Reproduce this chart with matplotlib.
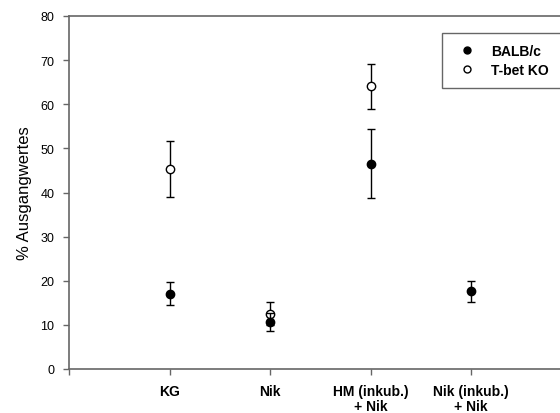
import matplotlib
matplotlib.use("Agg")
import matplotlib.pyplot as plt
from matplotlib.lines import Line2D

plt.rcParams['font.family'] = ['Liberation Sans', 'DejaVu Sans']

categories = ["KG", "Nik", "HM (inkub.)\n+ Nik", "Nik (inkub.)\n+ Nik"]
balb_x = [1, 2, 3, 4]
balb_mean = [17.1, 10.7, 46.5, 17.6]
balb_err = [2.6, 2.1, 7.8, 2.4]
ko_x = [1, 2, 3]
ko_mean = [45.3, 12.5, 64.1]
ko_err = [6.4, 2.6, 5.1]
series_names = ["BALB/c", "T-bet KO"]

fig = plt.figure(figsize=(5.6, 4.14), dpi=100)
ax = fig.add_axes([69 / 560, 1 - 370 / 414, 502.5 / 560, 353 / 414])

spine_col = "#666666"
ms = 6.0
ax.errorbar(ko_x, ko_mean, yerr=ko_err, fmt='o', color='black', mfc='white',
            mec='black', ms=ms, mew=1.0, elinewidth=1.0, capsize=3.0,
            capthick=1.0, zorder=3)
ax.errorbar(balb_x, balb_mean, yerr=balb_err, fmt='o', color='black', mfc='black',
            mec='black', ms=ms, mew=1.0, elinewidth=1.0, capsize=3.0,
            capthick=1.0, zorder=4)

ax.set_xlim(0, 5)
ax.set_ylim(0, 80)
ax.set_yticks(range(0, 81, 10))
ax.set_xticks([0, 1, 2, 3, 4])
ax.set_xticklabels([""] + categories, fontweight='bold', fontsize=10)
ax.tick_params(axis='y', labelsize=9, direction='out', length=4.5, width=1.0,
               color=spine_col, pad=6)
ax.tick_params(axis='x', direction='out', length=4.5, width=1.0,
               color=spine_col, pad=6)
for lbl in ax.get_xticklabels():
    lbl.set_linespacing(1.1)

for side in ['left', 'bottom', 'top']:
    ax.spines[side].set_color(spine_col)
    ax.spines[side].set_linewidth(1.2)
ax.spines['right'].set_visible(False)

ax.set_ylabel("% Ausgangwertes", fontsize=12)
ax.yaxis.set_label_coords((32 - 69) / 502.5, 0.5)

handles = [
    Line2D([], [], marker='o', ls='none', mfc='black', mec='black', ms=5.0),
    Line2D([], [], marker='o', ls='none', mfc='white', mec='black', ms=5.0),
]
leg = fig.legend(handles, series_names, loc='upper left',
                 bbox_to_anchor=(441.7 / 560, 0, 0.3, 1 - 34.3 / 414),
                 mode='expand', fancybox=False, framealpha=1,
                 edgecolor=spine_col, prop={'weight': 'bold', 'size': 10},
                 handlelength=2.2, handletextpad=0.63, borderpad=0.75,
                 labelspacing=0.4, borderaxespad=0)
leg.get_frame().set_linewidth(1.0)

fig.savefig("out.png", dpi=100)
